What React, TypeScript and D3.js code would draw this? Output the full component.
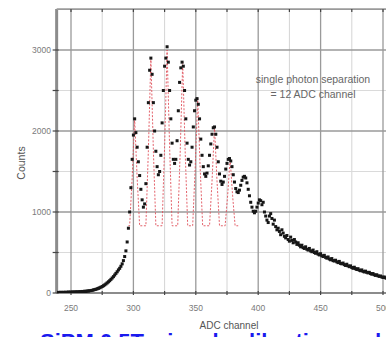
import React from "react";
import * as d3 from "d3";

const W = 386;
const H = 337;

// ADC channels start at 240, one count value per channel
const firstChannel = 240;
const counts = [
  8, 5, 10, 6, 9, 7, 10, 8, 12, 9,
  11, 13, 10, 14, 12, 15, 13, 17, 15, 19,
  18, 22, 20, 25, 24, 28, 30, 33, 38, 42,
  46, 52, 58, 64, 72, 80, 90, 100, 112, 125,
  138, 152, 168, 185, 202, 222, 242, 262, 285, 305,
  330, 360, 400, 450, 520, 630, 800, 1000, 1300, 1650,
  1950, 2150, 1980, 1800, 1620, 1450, 1280, 1150, 1060, 1100,
  1350, 1800, 2350, 2750, 2900, 2700, 2350, 2000, 1750, 1560,
  1460, 1500, 1700, 2100, 2500, 2800, 2900, 3040, 2850, 2500,
  2150, 1850, 1650, 1600, 1650, 1880, 2250, 2600, 2780, 2850,
  2800, 2500, 2150, 1850, 1650, 1580, 1620, 1800, 2050, 2250,
  2380, 2400, 2330, 2150, 1900, 1700, 1560, 1470, 1440, 1480,
  1570, 1700, 1840, 1960, 2040, 2050, 1960, 1800, 1620, 1470,
  1380, 1340, 1370, 1440, 1530, 1600, 1650, 1660, 1630, 1560,
  1460, 1370, 1290, 1250, 1240, 1270, 1330, 1390, 1430, 1440,
  1420, 1360, 1280, 1200, 1120, 1060, 1010, 990, 1010, 1060,
  1110, 1150, 1140, 1090, 1120, 1000, 950, 900, 870, 950,
  980, 920, 850, 900, 820, 780, 800, 760, 720, 780,
  740, 700, 680, 710, 660, 640, 690, 650, 620, 660,
  630, 600, 620, 590, 570, 590, 560, 550, 570, 540,
  530, 550, 520, 510, 530, 500, 490, 510, 480, 470,
  485, 460, 450, 465, 440, 430, 445, 420, 410, 425,
  400, 395, 405, 385, 375, 390, 365, 360, 370, 350,
  340, 355, 335, 325, 335, 315, 305, 318, 300, 290,
  300, 282, 275, 285, 268, 260, 270, 255, 248, 255,
  240, 232, 240, 225, 218, 225, 212, 205, 210, 198,
  192, 198, 188, 182, 185, 178,
];

// red dashed fit trace (channel, counts)
const redX = [296, 297, 299, 301, 303, 305, 310, 312, 314, 316, 318, 323, 325, 327, 329, 331, 335.5, 337.5, 339.5, 341.5, 343.5, 347.5, 349.5, 351.5, 353.5, 355.5, 361, 363, 365, 367, 369, 373.5, 375.5, 377.5, 379.5, 381.5, 384];
const redY = [830, 830, 1420, 2150, 1420, 830, 830, 1760, 2900, 1760, 830, 830, 1810, 3000, 1810, 830, 830, 1740, 2850, 1740, 830, 830, 1540, 2400, 1540, 830, 830, 1380, 2050, 1380, 830, 830, 1200, 1660, 1200, 830, 830];

const xTickLabels = [250, 300, 350, 400, 450, 500];
const xMinorTicks = [275, 325, 375, 425, 475];
const yTickLabels = [0, 1000, 2000, 3000];
const yMinorTicks = [500, 1500, 2500];

const annotation = ["single photon separation", "= 12 ADC channel"];
const xTitle = "ADC channel";
const yTitle = "Counts";
const slideTitle = "SiPM 0.5T: signal calibration and";

export default function App() {
  const x = d3.scaleLinear().domain([250, 500]).range([71, 383]);
  const y = d3.scaleLinear().domain([0, 3000]).range([293, 50]);
  const left = x(238.5);
  const right = x(520);
  const top = y(3505);
  const bottom = y(0);

  const pts = counts.map((c, i) => [firstChannel + i, c] as [number, number]);
  const redPath = d3
    .line<number>()
    .x((_, i) => x(redX[i]))
    .y((d) => y(d))(redY) as string;

  const font = "'Liberation Sans', Arial, sans-serif";

  return (
    <svg
      width={W}
      height={H}
      style={{ position: "absolute", left: 0, top: 0, background: "#fff" }}
    >
      <defs>
        <filter id="soft" x="-5%" y="-5%" width="110%" height="110%">
          <feGaussianBlur stdDeviation="0.45" />
        </filter>
        <clipPath id="plot">
          <rect x={left} y={top} width={right - left} height={bottom - top} />
        </clipPath>
      </defs>
      <g filter="url(#soft)">
        {/* minor grid */}
        {xMinorTicks.map((t) => (
          <line key={"xm" + t} x1={x(t)} x2={x(t)} y1={top} y2={bottom} stroke="#d4d4d4" strokeWidth={1} />
        ))}
        {yMinorTicks.map((t) => (
          <line key={"ym" + t} x1={left} x2={right} y1={y(t)} y2={y(t)} stroke="#dadada" strokeWidth={1} />
        ))}
        {/* major grid */}
        {xTickLabels.map((t) => (
          <line key={"xg" + t} x1={x(t)} x2={x(t)} y1={top} y2={bottom} stroke="#9a9a9a" strokeWidth={1.3} />
        ))}
        {yTickLabels.map((t) => (
          <line key={"yg" + t} x1={left} x2={right} y1={y(t)} y2={y(t)} stroke="#9a9a9a" strokeWidth={1.3} />
        ))}
        {/* frame */}
        <line x1={left} x2={left} y1={top} y2={bottom} stroke="#8c8c8c" strokeWidth={3} />
        <line x1={left} x2={right} y1={top} y2={top} stroke="#9a9a9a" strokeWidth={1.6} />
        <line x1={left} x2={right} y1={bottom} y2={bottom} stroke="#8c8c8c" strokeWidth={2.2} />
        {/* ticks */}
        {[...xTickLabels, ...xMinorTicks].map((t) => (
          <g key={"xt" + t}>
            <line x1={x(t)} x2={x(t)} y1={top} y2={top + 3} stroke="#444" strokeWidth={1.2} />
            <line x1={x(t)} x2={x(t)} y1={bottom - 2} y2={bottom + 2} stroke="#444" strokeWidth={1.2} />
          </g>
        ))}
        {[...yTickLabels, ...yMinorTicks].map((t) => (
          <line key={"yt" + t} x1={left - 4} x2={left + 2} y1={y(t)} y2={y(t)} stroke="#444" strokeWidth={1.2} />
        ))}
        {/* red fit trace */}
        <path d={redPath} fill="none" stroke="#e0505a" strokeWidth={0.9} strokeDasharray="2,1.6" clipPath="url(#plot)" />
        {/* data points */}
        <g clipPath="url(#plot)">
          {pts.map(([c, v]) => (
            <rect key={c} x={x(c) - 1.5} y={y(v) - 1.5} width={3} height={3} fill="#151515" />
          ))}
        </g>
      </g>
      {/* tick labels */}
      {xTickLabels.map((t) => (
        <text key={"xl" + t} x={x(t)} y={311} textAnchor="middle" fontSize={8.5} fill="#7a7a7a" fontFamily={font}>
          {t}
        </text>
      ))}
      {yTickLabels.map((t) => (
        <text key={"yl" + t} x={51} y={y(t) + 3} textAnchor="end" fontSize={8.5} fill="#7a7a7a" fontFamily={font}>
          {t}
        </text>
      ))}
      <text x={229} y={329} textAnchor="middle" fontSize={10} fill="#555" fontFamily={font}>
        {xTitle}
      </text>
      <text
        transform={`translate(25,163) rotate(-90)`}
        textAnchor="middle"
        fontSize={10.5}
        fill="#555"
        fontFamily={font}
      >
        {yTitle}
      </text>
      {annotation.map((s, i) => (
        <text key={s} x={313} y={83 + i * 15} textAnchor="middle" fontSize={10.5} fill="#666" fontFamily={font}>
          {s}
        </text>
      ))}
      <text x={40} y={349} fontSize={22} fontWeight="bold" fill="#1a1aee" fontFamily={font}>
        {slideTitle}
      </text>
    </svg>
  );
}
